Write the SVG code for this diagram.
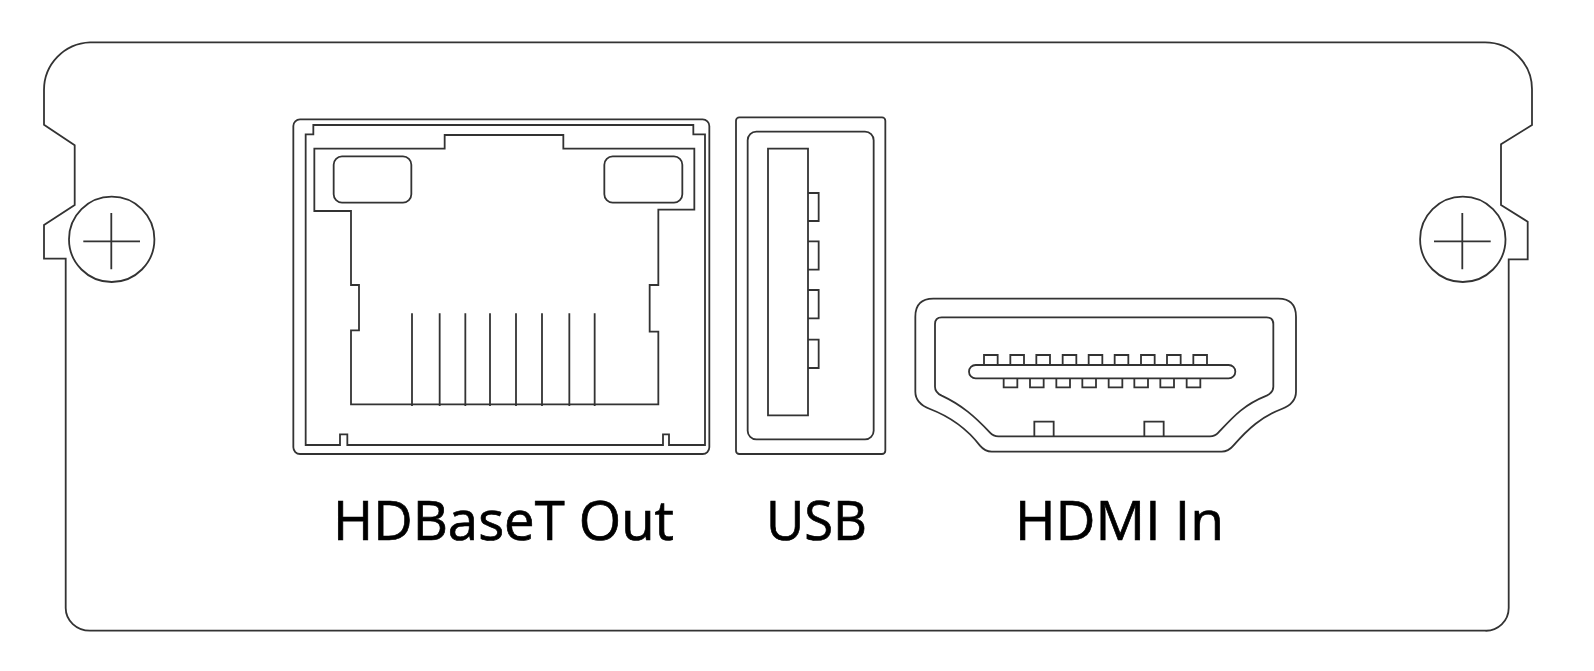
<svg xmlns="http://www.w3.org/2000/svg" width="1594" height="671" viewBox="0 0 1594 671">
<style>
.l{fill:none;stroke:#333;stroke-width:1.8;vector-effect:non-scaling-stroke;stroke-linejoin:miter}
.t{fill:#000;stroke:#000;stroke-width:.7;font-family:"Open Sans","Noto Sans",sans-serif;font-size:55px}
</style>
<rect width="1594" height="671" fill="#fff"/>
<g id="plate">
<path class="l" d="M90,42.3H1485A47,47 0 0 1 1532,90V125L1501,144.3V205L1527.7,221.7V259.3H1508.7V608A22.7,22.7 0 0 1 1485,630.7H90A24.3,22.7 0 0 1 65.7,608V258.7H44V225L74.7,205V145.3L44,124.7V90A47.7,47.7 0 0 1 90,42.3Z"/>
</g>
<g id="screw-left">
<circle class="l" cx="111.7" cy="239.3" r="42.7"/>
<path class="l" d="M83.3,241.3H140M111.3,213V269.3"/>
</g>
<g id="screw-right">
<circle class="l" cx="1462.8" cy="239.3" r="42.7"/>
<path class="l" d="M1434,241.3H1490.7M1462.3,213V269.3"/>
</g>
<g id="hdbaset-port" transform="translate(280,105) scale(.33333)">
<rect class="l" x="40" y="43" width="1248" height="1004" rx="20"/>
<path class="l" d="M100,60H1240V88H1275V1020H1167V988H1149V1020H202V988H180V1020H77V88H100Z"/>
<path class="l" d="M103,131H494V90H850V131H1243V314H1135V540H1109V680H1135V898H213V676H237V540H213V318H103Z"/>
<rect class="l" x="161" y="154" width="233" height="139" rx="25"/>
<rect class="l" x="973" y="154" width="234" height="139" rx="25"/>
<path class="l" d="M396,625V903M479,625V903M556,625V903M630,625V903M708,625V903M786,625V903M868,625V903M944,625V903"/>
</g>
<g id="usb-port" transform="translate(715,105) scale(.33333)">
<rect class="l" x="63" y="37" width="448" height="1010" rx="10"/>
<rect class="l" x="98" y="80" width="378" height="923" rx="26"/>
<rect class="l" x="159" y="131" width="120" height="800"/>
<path class="l" d="M279,264H311V348H279M279,409H311V494H279M279,555H311V640H279M279,704H311V789H279"/>
</g>
<g id="hdmi-port" transform="translate(890,285) scale(.33333)">
<path class="l" d="M130,41H1165Q1218,41 1218,95V320Q1218,355 1175,372C1115,395 1075,430 1030,482Q1015,500 995,500H305Q285,500 270,482C230,430 180,395 120,372Q76,355 76,320V95Q76,41 130,41Z"/>
<path class="l" d="M155,97H1130Q1150,97 1150,117V305Q1150,322 1130,332C1060,360 1030,395 985,443Q975,454 960,454H325Q310,454 300,443C255,395 215,360 155,332Q135,322 135,305V117Q135,97 155,97Z"/>
<rect class="l" x="237" y="240" width="799" height="40" rx="20"/>
<path class="l" d="M282,240V210H323V240M361,240V210H402V240M439,240V210H480V240M518,240V210H559V240M596,240V210H637V240M674,240V210H715V240M753,240V210H794V240M831,240V210H872V240M910,240V210H951V240"/>
<path class="l" d="M341,280V307H382V280M420,280V307H461V280M499,280V307H540V280M577,280V307H618V280M656,280V307H697V280M733,280V307H774V280M811,280V307H852V280M890,280V307H931V280"/>
<path class="l" d="M433,454V410H491V454M763,454V410H821V454"/>
</g>
<g id="labels">
<text class="t" x="333" y="540" textLength="341" lengthAdjust="spacingAndGlyphs">HDBaseT Out</text>
<text class="t" x="766" y="540" textLength="101" lengthAdjust="spacingAndGlyphs">USB</text>
<text class="t" x="1015" y="540" textLength="209" lengthAdjust="spacingAndGlyphs">HDMI In</text>
</g>
</svg>
